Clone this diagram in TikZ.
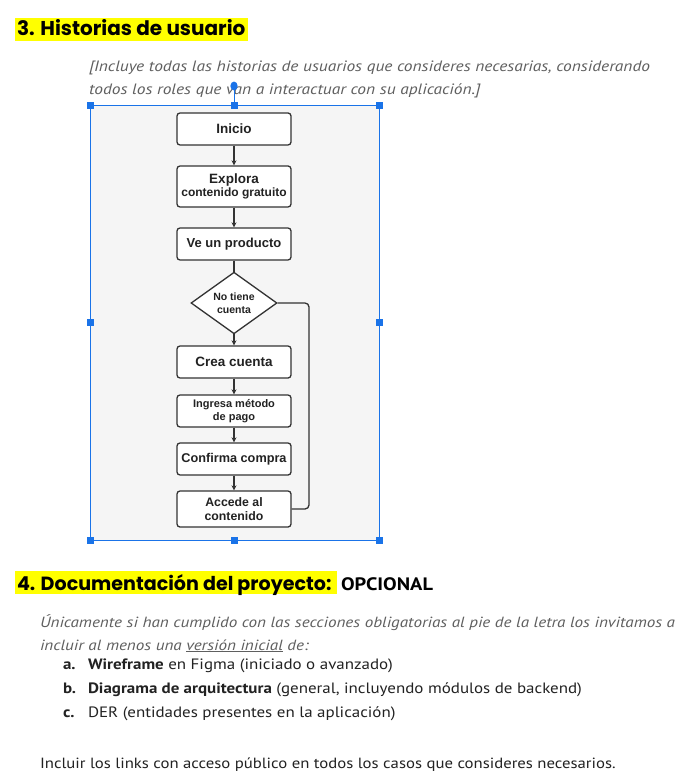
\documentclass[tikz,border=0pt]{standalone}
\usepackage{fontspec}
\setmainfont{PT Sans}
\newfontfamily\bodyfont[FakeStretch=1.13]{PT Sans}
\newfontfamily\itfont[FakeStretch=1.16]{PT Sans Italic}
\newfontfamily\headfont{Poppins}
\newfontfamily\flowfont{Liberation Sans}
\usetikzlibrary{shapes.geometric,arrows.meta}
\definecolor{hl}{HTML}{FFFF00}
\definecolor{selblue}{HTML}{1A73E8}
\definecolor{imgbg}{HTML}{F5F5F5}
\definecolor{linec}{HTML}{333333}
\definecolor{graytxt}{HTML}{5F5F5F}
\definecolor{bodytxt}{HTML}{222222}
\tikzset{
  txt/.style={anchor=base west, inner sep=0pt, outer sep=0pt},
  fbox/.style={draw=linec, line width=1.3pt, rounded corners=3pt, fill=white,
    minimum width=114pt, minimum height=32pt, inner sep=1pt, align=center,
    text=bodytxt, font=\flowfont\bfseries\fontsize{13}{14}\selectfont},
  fdiam/.style={diamond, draw=linec, line width=1.3pt, fill=white,
    minimum width=86pt, minimum height=56pt, inner sep=0pt, align=center,
    text=bodytxt, font=\flowfont\bfseries\fontsize{10.5}{12.5}\selectfont},
  farrow/.style={draw=linec, line width=1.3pt, -{Stealth[length=5pt,width=5pt]}},
  fline/.style={draw=linec, line width=1.3pt},
  handle/.style={fill=selblue, minimum size=7pt, inner sep=0pt, rectangle},
}
\begin{document}
\begin{tikzpicture}[x=1pt,y=-1pt]
\useasboundingbox (0,0) rectangle (690,783);
\fill[white] (0,0) rectangle (690,783);

% Section 3 heading
\fill[hl] (15,18) rectangle (248,41);
\node[txt] (h3) at (17,36) {\headfont\bfseries\fontsize{20}{20}\selectfont 3. Historias de usuario};

\node[txt, text=graytxt] (p1) at (89,72) {\itfont\fontsize{15}{15}\selectfont [Incluye todas las historias de usuarios que consideres necesarias, considerando};
\node[txt, text=graytxt] (p2) at (89,95) {\itfont\fontsize{15}{15}\selectfont todos los roles que van a interactuar con su aplicación.]};

% image frame
\fill[imgbg] (90,106) rectangle (379,540);
\draw[selblue, line width=1pt] (90,106) rectangle (379,540);
\coordinate (rotc) at (234,86);
\coordinate (topmid) at (234,106);
\draw[selblue, line width=1pt] (rotc) -- (topmid);
\fill[selblue] (rotc) ellipse (3.6 and 4.4);
\foreach \hx/\hy [count=\i] in {90/106,234/106,379/106,90/322,379/322,90/540,234/540,379/540}
  \node[handle] (hd\i) at (\hx,\hy) {};

% flowchart
\node[fbox, font=\flowfont\bfseries\fontsize{13.5}{14}\selectfont] (n1) at (234,129) {Inicio};
\node[fbox, minimum height=41pt, font=\flowfont\bfseries\fontsize{13.5}{14}\selectfont] (n2) at (234,186.5) {Explora\\[-1pt]{\fontsize{12}{13}\selectfont contenido gratuito}};
\node[fbox] (n3) at (234,244) {Ve un producto};
\node[fdiam] (d) at (234,303) {No tiene\\cuenta};
\node[fbox, font=\flowfont\bfseries\fontsize{13.5}{14}\selectfont] (n4) at (234,362) {Crea cuenta};
\node[fbox, font=\flowfont\bfseries\fontsize{11}{12.5}\selectfont] (n5) at (234,411) {Ingresa método\\de pago};
\node[fbox, font=\flowfont\bfseries\fontsize{12.7}{14}\selectfont] (n6) at (234,459) {Confirma compra};
\node[fbox, minimum height=36pt, font=\flowfont\bfseries\fontsize{12.3}{14}\selectfont] (n7) at (234,509) {Accede al\\contenido};

\draw[farrow] (n1) -- (n2);
\draw[farrow] (n2) -- (n3);
\draw[fline] (n3) -- (d);
\draw[farrow] (d) -- (n4);
\draw[farrow] (n4) -- (n5);
\draw[farrow] (n5) -- (n6);
\draw[farrow] (n6) -- (n7);
\coordinate (loopx) at (309,0);
\draw[fline, rounded corners=4pt] (d.east) -| (loopx |- n7.east) -- (n7.east);

% Section 4 heading
\fill[hl] (15,571) rectangle (337,594);
\node[txt] (h4) at (17,590) {\headfont\bfseries\fontsize{19.1}{20}\selectfont 4. Documentación del proyecto:};
\node[txt] (opc) at (341,590) {\bodyfont\bfseries\fontsize{18}{18}\selectfont OPCIONAL};

\node[txt, text=graytxt] (q1) at (40,627) {\itfont\fontsize{14.75}{15}\selectfont Únicamente si han cumplido con las secciones obligatorias al pie de la letra los invitamos a};
\node[txt, text=graytxt] (q2) at (40,650) {\itfont\fontsize{14.75}{15}\selectfont incluir al menos una \underline{versión inicial} de:};

\node[txt, text=bodytxt] (la) at (63,669) {\bodyfont\bfseries\fontsize{15}{15}\selectfont a.};
\node[txt, text=bodytxt] (ta) at (88,669) {\bodyfont\fontsize{15}{15}\selectfont\textbf{Wireframe} en Figma (iniciado o avanzado)};
\node[txt, text=bodytxt] (lb) at (63,693) {\bodyfont\bfseries\fontsize{15}{15}\selectfont b.};
\node[txt, text=bodytxt] (tb) at (88,693) {\bodyfont\fontsize{15}{15}\selectfont\textbf{Diagrama de arquitectura} (general, incluyendo módulos de backend)};
\node[txt, text=bodytxt] (lc) at (63,717) {\bodyfont\bfseries\fontsize{15}{15}\selectfont c.};
\node[txt, text=bodytxt] (tc) at (88,717) {\bodyfont\fontsize{15}{15}\selectfont DER (entidades presentes en la aplicación)};

\node[txt, text=bodytxt] (fin) at (40,768) {\bodyfont\fontsize{14.8}{15}\selectfont Incluir los links con acceso público en todos los casos que consideres necesarios.};
\end{tikzpicture}
\end{document}
